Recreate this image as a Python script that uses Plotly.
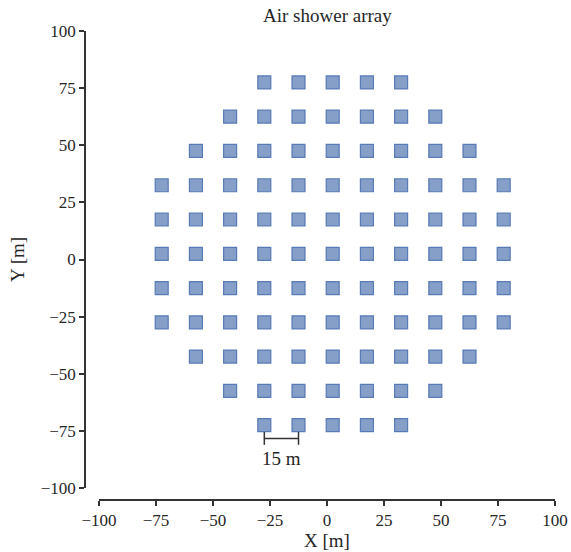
import plotly.graph_objects as go

# Detector grid (15 m spacing), rows listed from top to bottom
row_y = [77.5, 62.5, 47.5, 32.5, 17.5, 2.5, -12.5, -27.5, -42.5, -57.5, -72.5]
row_x_min = [-27.5, -42.5, -57.5, -72.5, -72.5, -72.5, -72.5, -72.5, -57.5, -42.5, -27.5]
row_x_max = [32.5, 47.5, 62.5, 77.5, 77.5, 77.5, 77.5, 77.5, 62.5, 47.5, 32.5]
spacing = 15.0

scale_bar_x = [-27.5, -12.5]
scale_bar_y = -78.3
scale_label = "15 m"

tick_vals = [-100, -75, -50, -25, 0, 25, 50, 75, 100]

xs, ys = [], []
for y, x0, x1 in zip(row_y, row_x_min, row_x_max):
    n = int(round((x1 - x0) / spacing)) + 1
    for i in range(n):
        xs.append(x0 + i * spacing)
        ys.append(y)

FONT = "Liberation Serif"
AX = "#333333"
TXT = "#262626"

fig = go.Figure()
fig.add_trace(go.Scatter(
    x=xs, y=ys, mode="markers",
    marker=dict(symbol="square", size=13, color="rgba(76,114,176,0.68)",
                line=dict(color="rgba(76,114,176,0.9)", width=1.2)),
    showlegend=False, hoverinfo="skip"))

# scale bar
fig.add_shape(type="line", x0=scale_bar_x[0], x1=scale_bar_x[1], y0=scale_bar_y, y1=scale_bar_y,
              line=dict(color=AX, width=1.5))
for sx in scale_bar_x:
    fig.add_shape(type="line", x0=sx, x1=sx, y0=scale_bar_y + 2.8, y1=scale_bar_y - 2.8,
                  line=dict(color=AX, width=1.5))
fig.add_annotation(x=sum(scale_bar_x) / 2, y=scale_bar_y - 3.2, text=scale_label, showarrow=False,
                   yanchor="top", font=dict(family=FONT, size=19, color=TXT))

fig.add_annotation(x=(327 - 85) / 470, y=1 + (31 - 16) / 469, xref="paper", yref="paper",
                   xanchor="center", yanchor="middle", text="Air shower array", showarrow=False,
                   font=dict(family=FONT, size=19, color=TXT))
fig.update_layout(
    width=571, height=552,
    margin=dict(l=85, r=16, t=31, b=52, autoexpand=False),
    plot_bgcolor="white", paper_bgcolor="white",
    font=dict(family=FONT, size=17, color=TXT),
    xaxis=dict(range=[-100, 100], domain=[0.0298, 1], anchor="free", position=0,
               tickvals=tick_vals, ticks="outside", ticklen=5, tickwidth=1.5, tickcolor=AX,
               showline=True, linecolor=AX, linewidth=1.5, showgrid=False, zeroline=False,
               automargin=False,
               title=dict(text="X [m]", standoff=3, font=dict(family=FONT, size=19)),
               tickfont=dict(family=FONT, size=17)),
    yaxis=dict(range=[-100, 100], domain=[0.0256, 1], anchor="free", position=0,
               tickvals=tick_vals, ticks="outside", ticklen=5, tickwidth=1.5, tickcolor=AX,
               showline=True, linecolor=AX, linewidth=1.5, showgrid=False, zeroline=False,
               automargin=False,
               title=dict(text="Y [m]", standoff=10, font=dict(family=FONT, size=19)),
               tickfont=dict(family=FONT, size=17)),
)

fig.write_html("out.html")
